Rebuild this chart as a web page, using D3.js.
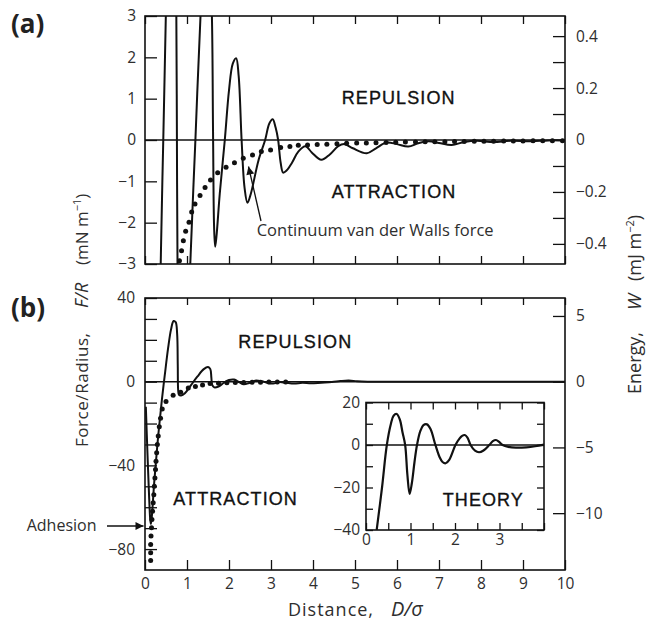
<!DOCTYPE html>
<html><head><meta charset="utf-8">
<script src="https://cdn.jsdelivr.net/npm/d3@7"></script>
<style>body{margin:0;background:#fff}svg{display:block}</style>
</head><body>
<svg id="c" width="649" height="623"></svg>
<script>
// ---------- DATA ----------
// Panel (a): measured oscillatory force F/R (mN/m) vs D/sigma
const forceA = [[0.30,-10],[0.37,-3.2],[0.435,0],[0.50,3.2],[0.56,6.5],[0.62,8],[0.68,7],[0.72,4.8],[0.745,3.2],[0.76,0],[0.775,-3.2],[0.82,-6.5],[0.91,-7.5],[1.00,-5.8],[1.07,-3.2],[1.20,0],[1.33,3.2],[1.40,4.3],[1.47,4.6],[1.54,4.1],[1.59,3.1],[1.62,0.2],[1.645,-2.1],[1.67,-2.58],[1.70,-2.35],[1.78,-1.3],[1.90,0],[2.00,1.2],[2.09,1.85],[2.17,1.98],[2.23,1.55],[2.30,0],[2.37,-1.15],[2.44,-1.52],[2.52,-1.3],[2.70,-0.5],[2.86,0],[2.96,0.4],[3.04,0.5],[3.11,0.3],[3.17,0],[3.23,-0.55],[3.29,-0.79],[3.37,-0.74],[3.50,-0.55],[3.65,-0.28],[3.82,-0.15],[3.97,-0.3],[4.2,-0.48],[4.4,-0.35],[4.6,-0.15],[4.75,-0.1],[4.95,-0.2],[5.28,-0.32],[5.5,-0.2],[5.75,-0.06],[6.0,-0.1],[6.27,-0.16],[6.5,-0.08],[6.75,-0.03],[7.0,-0.07],[7.3,-0.12],[7.6,-0.05],[7.9,-0.02],[8.3,-0.05],[8.7,-0.02],[9.2,-0.03],[9.6,-0.01],[10.0,-0.01]];
// Panel (a): continuum van der Waals force (dots)
const vdwA = [[0.82,-2.92],[0.87,-2.68],[0.913,-2.44],[0.968,-2.21],[1.048,-1.99],[1.111,-1.74],[1.19,-1.55],[1.31,-1.34],[1.43,-1.15],[1.56,-0.97],[1.73,-0.79],[1.93,-0.66],[2.13,-0.55],[2.34,-0.44],[2.56,-0.36],[2.77,-0.28],[2.99,-0.24],[3.23,-0.18],[3.45,-0.16],[3.65,-0.13],[3.87,-0.12],[4.1,-0.11],[4.33,-0.10],[4.57,-0.09],[4.8,-0.08],[5.04,-0.075],[5.27,-0.07],[5.5,-0.065],[5.74,-0.06],[5.97,-0.055],[6.2,-0.05],[6.44,-0.05],[6.67,-0.045],[6.9,-0.04],[7.14,-0.04],[7.37,-0.035],[7.6,-0.035],[7.84,-0.03],[8.07,-0.03],[8.3,-0.03],[8.54,-0.025],[8.77,-0.025],[9.0,-0.025],[9.24,-0.02],[9.47,-0.02],[9.7,-0.02],[9.94,-0.02]];
// Panel (b): measured force
const forceB = [[0.02,-12],[0.06,-35],[0.10,-56],[0.125,-66],[0.14,-68],[0.16,-65],[0.22,-48],[0.30,-29],[0.40,-9],[0.47,3],[0.55,16],[0.62,25],[0.68,29],[0.73,28.5],[0.765,23],[0.78,8],[0.79,-4],[0.81,-6.3],[0.86,-6.6],[0.95,-5.5],[1.10,-1.5],[1.25,2.5],[1.40,6],[1.50,7],[1.555,6],[1.58,2],[1.60,-1.5],[1.65,-2.7],[1.75,-2.3],[1.88,-0.5],[2.0,0.8],[2.12,1.0],[2.25,-0.3],[2.35,-1.2],[2.48,-0.6],[2.62,0.5],[2.78,0.2],[2.92,-0.6],[3.05,-0.9],[3.2,-0.2],[3.35,-0.5],[3.55,-0.9],[3.75,-0.5],[3.95,-0.8],[4.2,-0.5],[4.45,-0.2],[4.65,0.3],[4.85,0.6],[5.05,0.2],[5.3,0],[6.0,0],[10,0]];
// Panel (b): continuum force (dots)
const vdwB = [[0.135,-85.5],[0.135,-81.7],[0.135,-77.8],[0.143,-73.8],[0.155,-69.8],[0.165,-65.9],[0.18,-61.9],[0.195,-57.9],[0.21,-54],[0.222,-50],[0.236,-46],[0.25,-42],[0.262,-38],[0.278,-34],[0.294,-30],[0.315,-26],[0.34,-21.5],[0.37,-17.5],[0.41,-13],[0.5,-9.5],[0.67,-6.5],[0.85,-5],[1.03,-3],[1.2,-2.3],[1.37,-1.6],[1.55,-0.9],[1.75,-0.7],[1.95,-0.5],[2.15,-0.4],[2.35,-0.35],[2.55,-0.3],[2.75,-0.25],[2.95,-0.2],[3.15,-0.2],[3.35,-0.15]];
// Inset: theory
const theory = [[0.24,-40],[0.36,-20],[0.468,0],[0.56,10],[0.62,13.8],[0.69,14.6],[0.76,12],[0.82,6],[0.88,0],[0.93,-14],[0.98,-23],[1.03,-18],[1.09,-8],[1.146,0],[1.22,6.5],[1.29,9.3],[1.37,9.7],[1.45,7.5],[1.56,0],[1.65,-5.5],[1.72,-8],[1.79,-8.6],[1.87,-7],[2.01,0],[2.1,3],[2.16,4.3],[2.22,4.7],[2.28,3.5],[2.35,0],[2.45,-2.7],[2.54,-3.4],[2.64,-2.6],[2.77,0],[2.85,1.8],[2.92,2.35],[2.99,1.5],[3.07,0],[3.2,-0.9],[3.37,-1.25],[3.6,-1.1],[3.8,-0.6],[4.0,0.2]];

// ticks
const xTicks = [0,1,2,3,4,5,6,7,8,9,10];
const aLeftTicks = [-3,-2,-1,0,1,2,3];
const aRightTicks = [-0.4,-0.3,-0.2,-0.1,0,0.1,0.2,0.3,0.4];
const aRightLabels = [-0.4,-0.2,0,0.2,0.4];
const bLeftTicks = [-80,-70,-60,-50,-40,-30,-20,-10,0,10,20,30,40];
const bLeftLabels = [-80,-40,0,40];
const bRightTicks = [-10,-5,0,5];
const insetXTicks = [0,0.5,1,1.5,2,2.5,3,3.5,4];
const insetXLabels = [0,1,2,3];
const insetYTicks = [-40,-30,-20,-10,0,10,20];
const insetYLabels = [-40,-20,0,20];

// ---------- LAYOUT ----------
const svg = d3.select("#c");
const FONT = "'Open Sans', 'Noto Sans', sans-serif";
const CAPS = "'Liberation Sans', Arial, sans-serif";
const TXT = "#2e2e2e";
const fmt = v => (v < 0 ? "\u2212" : "") + Math.abs(v);

const x = d3.scaleLinear().domain([0,10]).range([145,565]);
const yA = d3.scaleLinear().domain([-3,3]).range([264,16]);
const yA2 = d3.scaleLinear().domain([-3/(2*Math.PI), 3/(2*Math.PI)]).range([264,16]);
const yB = d3.scaleLinear().domain([-90,40]).range([570,298]);
const yB2 = d3.scaleLinear().domain([-90/(2*Math.PI), 40/(2*Math.PI)]).range([570,298]);
const xI = d3.scaleLinear().domain([0,4]).range([366,544]);
const yI = d3.scaleLinear().domain([-40,20]).range([530,402.5]);

const defs = svg.append("defs");
function clip(id, xs, ys){
  defs.append("clipPath").attr("id", id).append("rect")
    .attr("x", xs.range()[0]).attr("y", ys.range()[1])
    .attr("width", xs.range()[1]-xs.range()[0]).attr("height", ys.range()[0]-ys.range()[1]);
}
clip("ca", x, yA); clip("cb", x, yB); clip("ci", xI, yI);
defs.append("marker").attr("id","ah").attr("viewBox","0 0 10 10").attr("refX",10).attr("refY",5)
  .attr("markerWidth",10).attr("markerHeight",8).attr("markerUnits","userSpaceOnUse").attr("orient","auto")
  .append("path").attr("d","M0,0L10,5L0,10z").attr("fill","#111");

function styleAxis(g, size){
  g.select(".domain").remove();
  g.selectAll(".tick line").attr("stroke","#111").attr("stroke-width",1.3);
  g.selectAll(".tick text").attr("font-family",FONT).attr("font-size",size||15.5).attr("fill",TXT);
}
const lab = arr => v => arr.some(a => Math.abs(a - v) < 1e-9) ? fmt(v) : "";

function panelFrame(xs, ys, fill){
  svg.append("rect").attr("x", xs.range()[0]).attr("y", ys.range()[1])
    .attr("width", xs.range()[1]-xs.range()[0]).attr("height", ys.range()[0]-ys.range()[1])
    .attr("fill", fill||"none").attr("stroke","#111").attr("stroke-width",1.6);
}
function zeroLine(xs, ys){
  svg.append("line").attr("x1",xs.range()[0]).attr("x2",xs.range()[1])
    .attr("y1",ys(0)).attr("y2",ys(0)).attr("stroke","#111").attr("stroke-width",1.5);
}
const lineGen = (xs, ys) => d3.line().x(d=>xs(d[0])).y(d=>ys(d[1])).curve(d3.curveCatmullRom.alpha(0.5));

// ----- Panel (a) -----
panelFrame(x, yA);
svg.append("g").attr("transform","translate(145,0)").call(d3.axisLeft(yA).tickValues(aLeftTicks).tickSize(-12).tickPadding(9).tickFormat(lab(aLeftTicks))).call(styleAxis);
svg.append("g").attr("transform","translate(565,0)").call(d3.axisRight(yA2).tickValues(aRightTicks).tickSize(-12).tickPadding(11).tickFormat(lab(aRightLabels))).call(styleAxis);
svg.append("g").attr("transform","translate(0,16)").call(d3.axisTop(x).tickValues(xTicks).tickSize(-8).tickFormat("")).call(styleAxis);
svg.append("g").attr("transform","translate(0,264)").call(d3.axisBottom(x).tickValues(xTicks).tickSize(-8).tickFormat("")).call(styleAxis);
zeroLine(x, yA);
const ga = svg.append("g").attr("clip-path","url(#ca)");
ga.selectAll("circle").data(vdwA).join("circle").attr("cx",d=>x(d[0])).attr("cy",d=>yA(d[1])).attr("r",2.5).attr("fill","#111");
ga.append("path").datum(forceA).attr("d", lineGen(x,yA)).attr("fill","none").attr("stroke","#111").attr("stroke-width",2);

// ----- Panel (b) -----
panelFrame(x, yB);
svg.append("g").attr("transform","translate(145,0)").call(d3.axisLeft(yB).tickValues(bLeftTicks).tickSize(-12).tickPadding(10).tickFormat(lab(bLeftLabels))).call(styleAxis);
svg.append("g").attr("transform","translate(565,0)").call(d3.axisRight(yB2).tickValues(bRightTicks).tickSize(-12).tickPadding(11).tickFormat(fmt)).call(styleAxis);
svg.append("g").attr("transform","translate(0,298)").call(d3.axisTop(x).tickValues(xTicks).tickSize(-7).tickFormat("")).call(styleAxis);
svg.append("g").attr("transform","translate(0,570)").call(d3.axisBottom(x).tickValues(xTicks).tickSize(-10).tickPadding(8).tickFormat(fmt)).call(styleAxis);
zeroLine(x, yB);
const gb = svg.append("g").attr("clip-path","url(#cb)");
gb.selectAll("circle").data(vdwB).join("circle").attr("cx",d=>x(d[0])).attr("cy",d=>yB(d[1])).attr("r",2.5).attr("fill","#111");
gb.append("path").datum(forceB).attr("d", lineGen(x,yB)).attr("fill","none").attr("stroke","#111").attr("stroke-width",2);

// ----- Inset -----
panelFrame(xI, yI, "#fff");
svg.append("g").attr("transform","translate(366,0)").call(d3.axisLeft(yI).tickValues(insetYTicks).tickSize(-7).tickPadding(6).tickFormat(lab(insetYLabels))).call(styleAxis);
svg.append("g").attr("transform","translate(544,0)").call(d3.axisRight(yI).tickValues(insetYTicks).tickSize(-7).tickFormat("")).call(styleAxis);
svg.append("g").attr("transform","translate(0,402.5)").call(d3.axisTop(xI).tickValues(insetXTicks).tickSize(-7).tickFormat("")).call(styleAxis);
svg.append("g").attr("transform","translate(0,530)").call(d3.axisBottom(xI).tickValues(insetXTicks).tickSize(-7).tickPadding(4).tickFormat(lab(insetXLabels))).call(styleAxis);
zeroLine(xI, yI);
svg.append("g").attr("clip-path","url(#ci)").append("path").datum(theory).attr("d", lineGen(xI,yI))
  .attr("fill","none").attr("stroke","#111").attr("stroke-width",2.2);

// ----- Texts -----
function caps(t, x0, yb){
  svg.append("text").attr("x",x0).attr("y",yb).text(t).attr("font-family",CAPS).attr("font-size",18)
    .attr("letter-spacing","1.1px").attr("fill","#111").attr("stroke","#111").attr("stroke-width",0.35);
}
caps("REPULSION", 341.7, 104);
caps("ATTRACTION", 331.7, 198);
caps("REPULSION", 238.3, 348);
caps("ATTRACTION", 173.3, 504.5);
caps("THEORY", 442.7, 506);

svg.append("text").attr("x",256.7).attr("y",236).text("Continuum van der Walls force")
  .attr("font-family",FONT).attr("font-size",16.5).attr("fill",TXT);
svg.append("line").attr("x1",261).attr("y1",221).attr("x2",248.5).attr("y2",166.5)
  .attr("stroke","#111").attr("stroke-width",1.3).attr("marker-end","url(#ah)");

svg.append("text").attr("x",26.7).attr("y",531).text("Adhesion")
  .attr("font-family",FONT).attr("font-size",16).attr("fill",TXT);
svg.append("line").attr("x1",107).attr("y1",526).attr("x2",143.5).attr("y2",526)
  .attr("stroke","#111").attr("stroke-width",1.4).attr("marker-end","url(#ah)");

svg.append("text").attr("x",11).attr("y",33).text("(a)").attr("font-family",FONT).attr("font-weight","bold").attr("font-size",26).attr("fill","#222");
svg.append("text").attr("x",11).attr("y",317).text("(b)").attr("font-family",FONT).attr("font-weight","bold").attr("font-size",26).attr("fill","#222");

// x title
const xt = svg.append("text").attr("x",288).attr("y",616).attr("font-family",FONT).attr("font-size",18).attr("fill",TXT);
xt.append("tspan").text("Distance,").attr("letter-spacing","1px");
xt.append("tspan").attr("x",391).attr("font-style","italic").attr("font-size",20).text("D/\u03c3");

// y titles (rotated)
function vtitle(cx, size, parts){
  parts.forEach(p => {
    const t = svg.append("text").attr("transform",`translate(${cx},${p.y0}) rotate(-90)`)
      .attr("font-family",FONT).attr("font-size",size).attr("fill",TXT);
    p.segs.forEach(s => {
      const ts = t.append("tspan").text(s.t);
      if (s.i) ts.attr("font-style","italic").attr("font-size",size+1);
      if (s.sup) ts.attr("font-size",11).attr("baseline-shift","super");
    });
    if (p.len) t.attr("textLength", p.len).attr("lengthAdjust","spacing");
  });
}
vtitle(88, 17, [
  {y0:447, len:114, segs:[{t:"Force/Radius,"}]},
  {y0:308, segs:[{t:"F/R", i:true}]},
  {y0:265, segs:[{t:"(mN m"},{t:"\u22121", sup:true},{t:")"}]}
]);
vtitle(641, 18, [
  {y0:394, segs:[{t:"Energy,"}]},
  {y0:310, segs:[{t:"W", i:true}]},
  {y0:281, segs:[{t:"(mJ m"},{t:"\u22122", sup:true},{t:")"}]}
]);
</script>
</body></html>
